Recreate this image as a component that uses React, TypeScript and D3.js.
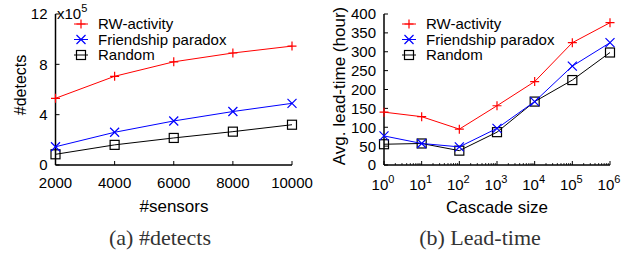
import React from "react";
import * as d3 from "d3";

const sensors = [2000, 4000, 6000, 8000, 10000];
const detectsRW = [5.3, 7.05, 8.2, 8.9, 9.45];
const detectsFP = [1.45, 2.6, 3.5, 4.25, 4.9];
const detectsRandom = [0.85, 1.6, 2.15, 2.65, 3.2];
const detectsTicks = [0, 4, 8, 12];

const cascadeSizes = [1, 10, 100, 1000, 10000, 100000, 1000000];
const leadRW = [140, 128, 95, 157, 221, 324, 377];
const leadFP = [77, 57, 48, 97, 168, 262, 324];
const leadRandom = [55, 57, 38, 87, 168, 225, 298];
const leadTicks = [0, 50, 100, 150, 200, 250, 300, 350, 400];
const cascadeExps = [0, 1, 2, 3, 4, 5, 6];

const seriesNames = ["RW-activity", "Friendship paradox", "Random"];
const seriesColors = ["#ff0000", "#0000ff", "#000000"];

const SANS = "'Liberation Sans', Arial, Helvetica, sans-serif";
const SERIF = "'Liberation Serif', 'Times New Roman', serif";

function Marker({ kind, x, y, color }: { kind: number; x: number; y: number; color: string }) {
  const s = 4.5;
  if (kind === 0)
    return (
      <path d={`M${x - s},${y}H${x + s}M${x},${y - s}V${y + s}`} stroke={color} strokeWidth={1.2} fill="none" />
    );
  if (kind === 1)
    return (
      <path
        d={`M${x - s},${y - s}L${x + s},${y + s}M${x - s},${y + s}L${x + s},${y - s}`}
        stroke={color}
        strokeWidth={1.2}
        fill="none"
      />
    );
  const q = 4.5;
  return <rect x={x - q} y={y - q} width={2 * q} height={2 * q} stroke={color} strokeWidth={1.2} fill="none" />;
}

function Series({
  xs,
  ys,
  xScale,
  yScale,
  kind,
}: {
  xs: number[];
  ys: number[];
  xScale: (v: number) => number;
  yScale: (v: number) => number;
  kind: number;
}) {
  const line = d3
    .line<number>()
    .x((_, i) => xScale(xs[i]))
    .y((d) => yScale(d));
  const color = seriesColors[kind];
  return (
    <g>
      <path d={line(ys) || ""} stroke={color} strokeWidth={1} fill="none" />
      {ys.map((v, i) => (
        <Marker key={i} kind={kind} x={xScale(xs[i])} y={yScale(v)} color={color} />
      ))}
    </g>
  );
}

function Legend({ x0, y0 }: { x0: number; y0: number }) {
  return (
    <g>
      {seriesNames.map((name, i) => {
        const y = y0 + i * 15.5;
        return (
          <g key={name}>
            <line x1={x0} x2={x0 + 14} y1={y} y2={y} stroke={seriesColors[i]} strokeWidth={1} />
            <Marker kind={i} x={x0 + 7} y={y} color={seriesColors[i]} />
            <text x={x0 + 24} y={y} dy="0.36em" fontFamily={SANS} fontSize={15} fill="#000">
              {name}
            </text>
          </g>
        );
      })}
    </g>
  );
}

export default function App() {
  const W = 623;
  const H = 255;
  const xL = d3.scaleLinear().domain([2000, 10000]).range([55.5, 292]);
  const yL = d3.scaleLinear().domain([0, 12]).range([165, 14]);
  const xR = d3.scaleLog().domain([1, 1e6]).range([384, 610]);
  const yR = d3.scaleLinear().domain([0, 400]).range([165, 14]);

  const minorTicks: number[] = [];
  for (let e = 0; e < 6; e++) {
    for (let m = 2; m <= 9; m++) minorTicks.push(m * Math.pow(10, e));
  }

  return (
    <svg
      width={W}
      height={H}
      style={{ position: "absolute", left: 0, top: 0, background: "#fff" }}
      fontFamily={SANS}
    >
      <g>
        <line x1={xL(2000)} x2={xL(2000)} y1={yL(12)} y2={yL(0)} stroke="#000" strokeWidth={1.5} />
        <line x1={xL(2000)} x2={xL(10000)} y1={yL(0)} y2={yL(0)} stroke="#000" strokeWidth={1.5} />
        {detectsTicks.map((t) => (
          <g key={t}>
            <line x1={xL(2000)} x2={xL(2000) + 4} y1={yL(t)} y2={yL(t)} stroke="#000" />
            <text x={xL(2000) - 8} y={yL(t)} dy="0.36em" textAnchor="end" fontSize={15}>
              {t}
            </text>
          </g>
        ))}
        {sensors.map((s) => (
          <g key={s}>
            <line x1={xL(s)} x2={xL(s)} y1={yL(0)} y2={yL(0) - 4} stroke="#000" />
            <text x={xL(s)} y={183} dy="0.36em" textAnchor="middle" fontSize={15}>
              {s}
            </text>
          </g>
        ))}
        <text x={57} y={19} fontSize={15}>
          x10
          <tspan dy={-7} fontSize={11}>
            5
          </tspan>
        </text>
        <text x={174} y={206} dy="0.36em" textAnchor="middle" fontSize={17}>
          #sensors
        </text>
        <text transform={`translate(20,85) rotate(-90)`} dy="0.36em" textAnchor="middle" fontSize={16}>
          #detects
        </text>
        <Series xs={sensors} ys={detectsRandom} xScale={xL} yScale={yL} kind={2} />
        <Series xs={sensors} ys={detectsFP} xScale={xL} yScale={yL} kind={1} />
        <Series xs={sensors} ys={detectsRW} xScale={xL} yScale={yL} kind={0} />
        <Legend x0={74} y0={24} />
        <text x={160} y={237} dy="0.36em" textAnchor="middle" fontFamily={SERIF} fontSize={22} fill="#333">
          (a) #detects
        </text>
      </g>

      <g>
        <line x1={xR(1)} x2={xR(1)} y1={yR(400)} y2={yR(0)} stroke="#000" strokeWidth={1.5} />
        <line x1={xR(1)} x2={xR(1e6)} y1={yR(0)} y2={yR(0)} stroke="#000" strokeWidth={1.5} />
        {leadTicks.map((t) => (
          <g key={t}>
            <line x1={xR(1)} x2={xR(1) + 4} y1={yR(t)} y2={yR(t)} stroke="#000" />
            <text x={xR(1) - 8} y={yR(t)} dy="0.36em" textAnchor="end" fontSize={15}>
              {t}
            </text>
          </g>
        ))}
        {cascadeExps.map((e) => (
          <g key={e}>
            <line x1={xR(Math.pow(10, e))} x2={xR(Math.pow(10, e))} y1={yR(0)} y2={yR(0) - 4} stroke="#000" />
            <text x={xR(Math.pow(10, e)) - 1} y={185} dy="0.36em" textAnchor="middle" fontSize={15}>
              10
              <tspan dy={-7} fontSize={11}>
                {e}
              </tspan>
            </text>
          </g>
        ))}
        {minorTicks.map((m) => (
          <line key={m} x1={xR(m)} x2={xR(m)} y1={yR(0)} y2={yR(0) - 2} stroke="#000" strokeWidth={0.8} />
        ))}
        <text x={497} y={207} dy="0.36em" textAnchor="middle" fontSize={17}>
          Cascade size
        </text>
        <text transform={`translate(339,86) rotate(-90)`} dy="0.36em" textAnchor="middle" fontSize={17}>
          Avg. lead-time (hour)
        </text>
        <Series xs={cascadeSizes} ys={leadRandom} xScale={xR} yScale={yR} kind={2} />
        <Series xs={cascadeSizes} ys={leadFP} xScale={xR} yScale={yR} kind={1} />
        <Series xs={cascadeSizes} ys={leadRW} xScale={xR} yScale={yR} kind={0} />
        <Legend x0={402} y0={24} />
        <text x={480} y={237} dy="0.36em" textAnchor="middle" fontFamily={SERIF} fontSize={22} fill="#333">
          (b) Lead-time
        </text>
      </g>
    </svg>
  );
}
